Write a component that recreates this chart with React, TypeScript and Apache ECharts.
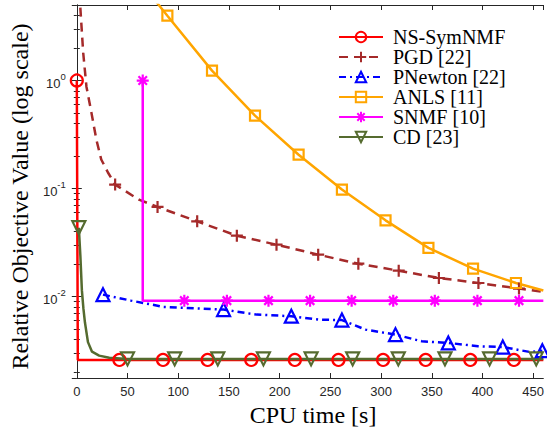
import React, { useEffect, useRef } from 'react';
import * as echarts from 'echarts';

// ---------------- data (CPU time [s], relative objective value) ----------------
const nsTime = [0, 1, 42, 85, 129, 172, 215, 258, 302, 344, 388, 431, 460];
const nsValue = [1, 0.0026, 0.0026, 0.0026, 0.0026, 0.0026, 0.0026, 0.0026, 0.0026, 0.0026, 0.0026, 0.0026, 0.0026];
const nsMark = [1, 0, 1, 1, 1, 1, 1, 1, 1, 1, 1, 1, 0];

const pgdTime = [2.6, 3.6, 6.3, 9.5, 14.4, 19.3, 24.1, 30.7, 37.8, 61.3, 79.6, 118.7, 157.8, 196.9, 238, 277.6, 317.4, 357, 396, 436, 460];
const pgdValue = [6.5, 4.53, 1.81, 0.878, 0.505, 0.284, 0.186, 0.141, 0.109, 0.079, 0.0677, 0.0498, 0.0367, 0.0303, 0.0245, 0.0202, 0.0174, 0.0149, 0.0134, 0.0119, 0.0111];
const pgdMark = [0, 0, 0, 0, 0, 0, 0, 0, 1, 0, 1, 1, 1, 1, 1, 1, 1, 1, 1, 1, 0];

const pnTime = [25.8, 53.5, 85.7, 144.7, 177.3, 211.5, 239.2, 261.4, 284.8, 314.2, 340.2, 366.3, 395.6, 420, 447.7, 459];
const pnValue = [0.01045, 0.0092, 0.00805, 0.0076, 0.00683, 0.0066, 0.00614, 0.00608, 0.00496, 0.00446, 0.00387, 0.00374, 0.00348, 0.00342, 0.00307, 0.00317];
const pnMark = [1, 0, 0, 1, 0, 1, 0, 1, 0, 1, 0, 1, 0, 1, 0, 1];

const anlsTime = [78, 89.3, 133.3, 175.7, 218.7, 261.4, 304.4, 346.7, 390.7, 433, 460];
const anlsValue = [5.4, 3.98, 1.235, 0.473, 0.206, 0.098, 0.0509, 0.0283, 0.0182, 0.0134, 0.0114];
const anlsMark = [0, 1, 1, 1, 1, 1, 1, 1, 1, 1, 0];

const snmfTime = [65, 65, 106, 148, 189, 230, 271, 312, 353, 395, 436, 460];
const snmfValue = [1, 0.0092, 0.0092, 0.0092, 0.0092, 0.0092, 0.0092, 0.0092, 0.0092, 0.0092, 0.0092, 0.0092];
const snmfMark = [1, 0, 1, 1, 1, 1, 1, 1, 1, 1, 1, 0];

const cdTime = [2, 3.5, 5, 6.5, 8, 11, 15, 22, 32, 50, 96.5, 139, 184, 231, 272, 317, 363, 407, 453, 460];
const cdValue = [0.0435, 0.024, 0.0115, 0.0078, 0.0058, 0.0038, 0.0031, 0.00285, 0.00272, 0.00266, 0.00266, 0.00266, 0.00266, 0.00266, 0.00266, 0.00266, 0.00266, 0.00266, 0.00266, 0.00266];
const cdMark = [1, 0, 0, 0, 0, 0, 0, 0, 0, 1, 1, 1, 1, 1, 1, 1, 1, 1, 1, 0];

const xTicks = [0, 50, 100, 150, 200, 250, 300, 350, 400, 450];
const legendNames = ['NS-SymNMF', 'PGD [22]', 'PNewton [22]', 'ANLS [11]', 'SNMF [10]', 'CD [23]'];

const buildData = (time: number[], value: number[], mark: number[]) =>
  time.map((t, i) => (mark[i] ? { value: [t, value[i]] } : { value: [t, value[i]], symbol: 'none' }));

const AX = '#262626';
const PLUS = 'path://M0,5L10,5M5,0L5,10';
const STAR = 'path://M0,5L10,5M5,0L5,10M1.46,1.46L8.54,8.54M1.46,8.54L8.54,1.46';
const TRI_DOWN = 'path://M0,0L10,0L5,8.66Z';

function mkSeries(name: string, data: any[], color: string, symbol: string, symbolSize: any, lineType: any) {
  return {
    name,
    type: 'line',
    data,
    symbol,
    symbolSize,
    showAllSymbol: true,
    xAxisIndex: 0,
    yAxisIndex: 0,
    lineStyle: { color, width: 2.5, type: lineType },
    itemStyle: { color: 'rgba(0,0,0,0)', borderColor: color, borderWidth: 2.2 },
    emphasis: { disabled: true },
    silent: true,
  };
}

export default function App() {
  const ref = useRef<HTMLDivElement>(null);
  useEffect(() => {
    if (!ref.current) return;
    const chart = echarts.init(ref.current, undefined, { renderer: 'svg' });
    const tickStyle = { inside: true, length: 5, lineStyle: { color: AX, width: 1 } };
    const minorStyle = { show: true, splitNumber: 9, length: 3, lineStyle: { color: AX, width: 1 } };
    const option: any = {
      animation: false,
      backgroundColor: '#ffffff',
      grid: { left: 75, right: 2, top: 5, bottom: 63, containLabel: false },
      legend: {
        orient: 'vertical',
        left: 333,
        top: 22,
        itemWidth: 44,
        itemHeight: 13,
        itemGap: 0,
        textStyle: { fontFamily: 'Liberation Serif', fontSize: 20, color: '#000', lineHeight: 20, padding: [0, 0, 0, 5] },
        data: legendNames,
      },
      xAxis: [
        {
          type: 'value',
          position: 'bottom',
          min: 0,
          max: 460,
          interval: 50,
          axisLine: { show: true, onZero: false, lineStyle: { color: AX, width: 1 } },
          axisTick: tickStyle,
          splitLine: { show: false },
          axisLabel: {
            fontFamily: 'Liberation Sans',
            fontSize: 13,
            color: AX,
            margin: 7,
            showMaxLabel: false,
            formatter: (v: number) => (xTicks.includes(v) ? String(v) : ''),
          },
          name: 'CPU time [s]',
          nameLocation: 'middle',
          nameGap: 14,
          nameTextStyle: { fontFamily: 'Liberation Serif', fontSize: 24, color: '#000', padding: [0, 0, 0, 6] },
        },
        {
          type: 'value',
          position: 'top',
          min: 0,
          max: 460,
          interval: 50,
          axisLine: { show: true, onZero: false, lineStyle: { color: AX, width: 1 } },
          axisTick: tickStyle,
          axisLabel: { show: false },
          splitLine: { show: false },
        },
      ],
      yAxis: [
        {
          type: 'log',
          logBase: 10,
          position: 'left',
          min: 0.00177,
          max: 5,
          axisLine: { show: true, lineStyle: { color: AX, width: 1 } },
          axisTick: tickStyle,
          minorTick: minorStyle,
          splitLine: { show: false },
          minorSplitLine: { show: false },
          axisLabel: {
            margin: 11,
            showMinLabel: false,
            showMaxLabel: false,
            formatter: (v: number) => {
              const e = Math.log10(v);
              if (Math.abs(e - Math.round(e)) > 1e-6) return '';
              return '{b|10}{s|' + Math.round(e) + '}';
            },
            rich: {
              b: { fontFamily: 'Liberation Sans', fontSize: 13, color: AX, lineHeight: 18, verticalAlign: 'bottom' },
              s: { fontFamily: 'Liberation Sans', fontSize: 9.5, color: AX, lineHeight: 10, verticalAlign: 'top' },
            },
          },
          name: 'Relative Objective Value (log scale)',
          nameLocation: 'middle',
          nameGap: 42,
          nameRotate: 90,
          nameTextStyle: { fontFamily: 'Liberation Serif', fontSize: 24, color: '#000', padding: [0, 10, 0, 0] },
        },
        {
          type: 'log',
          logBase: 10,
          position: 'right',
          min: 0.00177,
          max: 5,
          axisLine: { show: true, lineStyle: { color: AX, width: 1 } },
          axisTick: tickStyle,
          minorTick: minorStyle,
          axisLabel: { show: false },
          splitLine: { show: false },
        },
      ],
      series: [
        mkSeries(legendNames[0], buildData(nsTime, nsValue, nsMark), '#ff0000', 'circle', 12, 'solid'),
        mkSeries(legendNames[1], buildData(pgdTime, pgdValue, pgdMark), '#a52a2a', PLUS, 12, [9, 6]),
        mkSeries(legendNames[2], buildData(pnTime, pnValue, pnMark), '#0000ff', 'triangle', 13, [7, 4, 2, 4]),
        mkSeries(legendNames[3], buildData(anlsTime, anlsValue, anlsMark), '#ffa500', 'rect', 10, 'solid'),
        mkSeries(legendNames[4], buildData(snmfTime, snmfValue, snmfMark), '#ff00ff', STAR, 12, 'solid'),
        mkSeries(legendNames[5], buildData(cdTime, cdValue, cdMark), '#556b2f', TRI_DOWN, 13, 'solid'),
      ],
    };
    chart.setOption(option);
    return () => chart.dispose();
  }, []);
  return <div ref={ref} style={{ position: 'absolute', left: 0, top: 0, width: 547, height: 441 }} />;
}
